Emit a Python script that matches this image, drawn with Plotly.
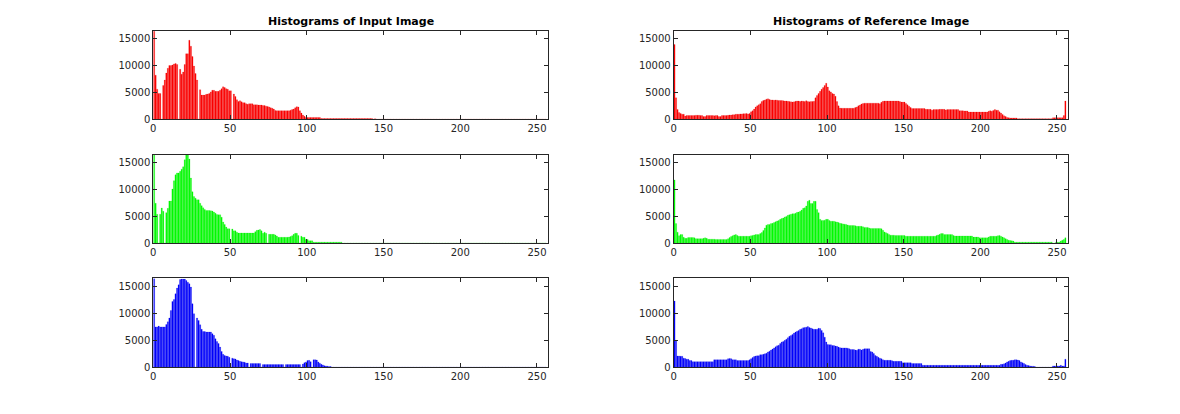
import plotly.graph_objects as go

# ---- data: 256-bin histograms (counts per intensity level) ----
bins = list(range(256))
x_ticks = [0, 50, 100, 150, 200, 250]
y_ticks = [0, 5000, 10000, 15000]
titles = ["Histograms of Input Image", "Histograms of Reference Image"]

input_red = [
    16400, 8200, 5600, 4800, 4800, 0, 6300, 7300, 8600, 9500, 10000, 10000, 10100, 10300, 10400, 10200,
    0, 9300, 8400, 8800, 10200, 12200, 12200, 14700, 13600, 11700, 9900, 8500, 7300, 0, 5500, 4500,
    4500, 4500, 4650, 4700, 4800, 5100, 5400, 5400, 5200, 5200, 5200, 5400, 5700, 6050, 5900, 5700,
    5600, 5300, 5300, 0, 4700, 4250, 3650, 3300, 3450, 3250, 3100, 3100, 2900, 2800, 2900, 2900,
    2900, 2700, 2700, 2700, 2650, 2650, 2650, 2550, 2550, 2450, 2400, 2300, 2150, 2050, 1900, 1650,
    1600, 1600, 1600, 1600, 1600, 1600, 1600, 1600, 1600, 1700, 1800, 1900, 2150, 2350, 2300, 1600,
    1150, 800, 550, 350, 350, 350, 350, 350, 350, 350, 350, 350, 350, 150, 150, 150,
    150, 150, 150, 150, 150, 150, 150, 150, 150, 150, 150, 150, 150, 150, 150, 150,
    150, 150, 150, 150, 150, 150, 150, 150, 150, 150, 150, 150, 150, 150, 150, 0,
    120, 0, 0, 0, 0, 0, 0, 0, 0, 0, 0, 0, 0, 0, 0, 0,
    0, 0, 0, 0, 0, 0, 0, 0, 0, 0, 0, 0, 0, 0, 0, 0,
    0, 0, 0, 0, 0, 0, 0, 0, 0, 0, 0, 0, 0, 0, 0, 0,
    0, 0, 0, 0, 0, 0, 0, 0, 0, 0, 0, 0, 0, 0, 0, 0,
    0, 0, 0, 0, 0, 0, 0, 0, 0, 0, 0, 0, 0, 0, 0, 0,
    0, 0, 0, 0, 0, 0, 0, 0, 0, 0, 0, 0, 0, 0, 0, 0,
    0, 0, 0, 0, 0, 0, 0, 0, 0, 0, 0, 0, 0, 0, 0, 0,
]

input_green = [
    16500, 7450, 5400, 0, 5400, 6550, 5950, 0, 5700, 6500, 7850, 7850, 10100, 11650, 12750, 13100,
    13100, 13400, 13800, 14250, 15550, 16500, 16500, 15700, 12150, 9600, 8700, 8400, 8100, 8100, 7450, 7000,
    6600, 6300, 6100, 6100, 6100, 6050, 6000, 5800, 5600, 5350, 5300, 5300, 4850, 3950, 3500, 3000,
    2700, 2700, 0, 2650, 2300, 2300, 2050, 1900, 1900, 1900, 1900, 1900, 1900, 1900, 1900, 1900,
    1900, 1900, 2150, 2400, 2450, 2550, 2300, 1850, 2050, 1850, 0, 1650, 1650, 1650, 1650, 1550,
    1350, 1100, 1100, 1100, 1100, 1100, 1100, 1100, 1150, 1250, 1400, 1650, 1850, 1850, 1450, 0,
    1300, 1100, 1100, 700, 700, 450, 450, 450, 200, 200, 200, 200, 200, 200, 200, 200,
    200, 200, 200, 200, 200, 200, 200, 200, 200, 200, 200, 0, 0, 0, 0, 0,
    0, 0, 0, 0, 0, 0, 0, 0, 0, 0, 0, 0, 0, 0, 0, 0,
    0, 0, 0, 0, 0, 0, 0, 0, 0, 0, 0, 0, 0, 0, 0, 0,
    0, 0, 0, 0, 0, 0, 0, 0, 0, 0, 0, 0, 0, 0, 0, 0,
    0, 0, 0, 0, 0, 0, 0, 0, 0, 0, 0, 0, 0, 0, 0, 0,
    0, 0, 0, 0, 0, 0, 0, 0, 0, 0, 0, 0, 0, 0, 0, 0,
    0, 0, 0, 0, 0, 0, 0, 0, 0, 0, 0, 0, 0, 0, 0, 0,
    0, 0, 0, 0, 0, 0, 0, 0, 0, 0, 0, 0, 0, 0, 0, 0,
    0, 0, 0, 0, 0, 0, 0, 0, 0, 0, 0, 0, 0, 0, 0, 0,
]

input_blue = [
    16500, 7500, 7500, 7650, 7500, 7500, 7500, 7500, 7950, 8450, 9150, 10550, 12200, 12600, 13650, 14700,
    15300, 16300, 16400, 16400, 16400, 16100, 15800, 15500, 14900, 11800, 9950, 0, 9150, 8700, 7900, 7050,
    6650, 6650, 6550, 6550, 6550, 6550, 6250, 5950, 5300, 4800, 4400, 3750, 2950, 2400, 2200, 2100,
    2050, 1850, 0, 1700, 1600, 1550, 1350, 1250, 1100, 1050, 1000, 950, 800, 800, 0, 700,
    700, 700, 700, 700, 700, 700, 0, 500, 500, 500, 500, 500, 500, 500, 500, 500,
    500, 500, 500, 500, 500, 0, 500, 500, 500, 500, 500, 500, 500, 500, 500, 500,
    0, 600, 850, 1000, 1250, 1300, 1050, 0, 1400, 1400, 1350, 1000, 750, 550, 450, 300,
    250, 200, 150, 150, 0, 0, 0, 0, 0, 0, 0, 0, 0, 0, 0, 0,
    0, 0, 0, 0, 0, 0, 0, 0, 0, 0, 0, 0, 0, 0, 0, 0,
    0, 0, 0, 0, 0, 0, 0, 0, 0, 0, 0, 0, 0, 0, 0, 0,
    0, 0, 0, 0, 0, 0, 0, 0, 0, 0, 0, 0, 0, 0, 0, 0,
    0, 0, 0, 0, 0, 0, 0, 0, 0, 0, 0, 0, 0, 0, 0, 0,
    0, 0, 0, 0, 0, 0, 0, 0, 0, 0, 0, 0, 0, 0, 0, 0,
    0, 0, 0, 0, 0, 0, 0, 0, 0, 0, 0, 0, 0, 0, 0, 0,
    0, 0, 0, 0, 0, 0, 0, 0, 0, 0, 0, 0, 0, 0, 0, 0,
    0, 0, 0, 0, 0, 0, 0, 0, 0, 0, 0, 0, 0, 0, 0, 0,
]

reference_red = [
    13900, 4000, 1800, 1250, 1100, 950, 950, 600, 700, 700, 700, 700, 700, 700, 750, 750,
    750, 700, 700, 500, 500, 700, 700, 700, 700, 700, 650, 700, 700, 500, 500, 700,
    700, 700, 700, 750, 800, 800, 850, 850, 950, 950, 950, 1000, 1000, 1050, 1050, 1100,
    1000, 1100, 1400, 1600, 1900, 2300, 2500, 2700, 2900, 3300, 3500, 3600, 3750, 3800, 3700, 3600,
    3600, 3550, 3600, 3550, 3500, 3500, 3500, 3450, 3400, 3400, 3350, 3300, 3250, 3200, 3250, 3350,
    3400, 3400, 3300, 3400, 3350, 3300, 3450, 3300, 3250, 3300, 3300, 3350, 4000, 4450, 4800, 5200,
    5600, 5900, 6300, 6700, 6000, 5300, 5100, 4800, 4700, 4300, 3300, 2500, 2100, 2050, 2050, 2050,
    2050, 2050, 2050, 2050, 2050, 2050, 2200, 2300, 2500, 2650, 2850, 2950, 3000, 3000, 3000, 3000,
    3000, 3000, 3000, 3000, 3000, 3000, 2900, 3150, 3350, 3400, 3400, 3400, 3400, 3400, 3400, 3400,
    3400, 3400, 3400, 3300, 3200, 3200, 3200, 2950, 2700, 2450, 2200, 2000, 2000, 2000, 2000, 2000,
    2000, 2000, 2000, 2000, 1850, 1850, 1850, 1850, 1700, 1800, 1800, 1800, 1800, 1850, 1850, 1850,
    1850, 1750, 1800, 1800, 1800, 1800, 1800, 1800, 1800, 1800, 1600, 1600, 1600, 1550, 1550, 1550,
    1350, 1350, 1350, 1350, 1350, 1350, 1350, 1350, 1350, 1350, 1350, 1350, 1350, 1500, 1600, 1500,
    1650, 1800, 1700, 1700, 1400, 1150, 900, 650, 500, 350, 300, 250, 250, 250, 250, 250,
    120, 120, 120, 120, 120, 120, 120, 120, 120, 120, 120, 120, 120, 120, 120, 120,
    120, 120, 120, 120, 120, 120, 120, 300, 300, 300, 300, 300, 300, 300, 700, 3400,
]

reference_green = [
    11800, 3650, 2050, 1400, 1600, 1600, 1100, 900, 900, 1050, 1050, 1050, 1050, 1000, 850, 850,
    850, 850, 850, 900, 1000, 900, 750, 750, 750, 750, 750, 700, 700, 700, 700, 700,
    700, 700, 700, 850, 1050, 1250, 1400, 1550, 1600, 1450, 1300, 1300, 1300, 1300, 1300, 1300,
    1300, 1300, 1400, 1450, 1550, 1600, 1600, 1600, 1800, 2000, 2350, 2850, 3350, 3500, 3500, 3650,
    3700, 3850, 4000, 4150, 4250, 4450, 4600, 4700, 4900, 5000, 5200, 5300, 5400, 5500, 5500, 5600,
    5750, 5800, 5950, 6200, 6500, 6600, 6950, 7800, 8000, 7400, 7400, 7800, 7800, 6300, 5700, 4450,
    4250, 4250, 4300, 4450, 4450, 4250, 4100, 4100, 4100, 4000, 3950, 3850, 3700, 3650, 3600, 3550,
    3500, 3400, 3300, 3300, 3300, 3300, 3250, 3150, 3150, 3150, 3150, 3050, 2950, 2950, 2950, 2850,
    2750, 2750, 2750, 2750, 2750, 2750, 2750, 2700, 2400, 2100, 1950, 1800, 1600, 1500, 1500, 1500,
    1450, 1450, 1450, 1450, 1450, 1450, 1450, 1300, 1300, 1300, 1300, 1300, 1300, 1300, 1300, 1300,
    1300, 1300, 1300, 1300, 1300, 1300, 1300, 1300, 1300, 1300, 1300, 1450, 1550, 1650, 1800, 1800,
    1600, 1600, 1600, 1600, 1600, 1600, 1450, 1350, 1350, 1350, 1350, 1350, 1350, 1350, 1350, 1350,
    1350, 1350, 1350, 1150, 1150, 1150, 1150, 1000, 1000, 1000, 1000, 1000, 1000, 1150, 1300, 1300,
    1300, 1300, 1300, 1400, 1450, 1300, 1150, 1000, 850, 700, 550, 500, 450, 400, 200, 200,
    200, 200, 200, 200, 200, 200, 200, 200, 200, 200, 200, 200, 200, 200, 200, 200,
    200, 200, 200, 200, 200, 200, 200, 0, 0, 200, 200, 200, 400, 550, 700, 1000,
]

reference_blue = [
    12300, 5000, 2100, 2100, 2050, 2050, 1700, 1650, 1500, 1500, 1250, 1250, 1050, 1050, 1050, 1050,
    1050, 1050, 1050, 1050, 1050, 1050, 1050, 1050, 1050, 1050, 1400, 1400, 1400, 1400, 1400, 1400,
    1400, 1400, 1400, 1600, 1650, 1600, 1400, 1400, 1400, 1250, 1250, 1250, 1250, 1250, 1250, 1250,
    1250, 1400, 1600, 1800, 2000, 2100, 2150, 2150, 2350, 2350, 2400, 2500, 2600, 2850, 3000, 3200,
    3400, 3600, 3800, 4000, 4100, 4400, 4700, 4800, 5000, 5200, 5500, 5750, 5900, 6100, 6350, 6550,
    6700, 6850, 7050, 7150, 7350, 7400, 7450, 7550, 7400, 7300, 7150, 7050, 7050, 7050, 7250, 7200,
    6850, 6400, 5600, 4700, 4250, 4200, 4200, 4050, 4050, 3950, 3900, 3750, 3650, 3600, 3600, 3600,
    3600, 3550, 3450, 3300, 3300, 3300, 3200, 3150, 3350, 3350, 3200, 3350, 3450, 3450, 3450, 3450,
    2950, 2850, 2550, 2200, 2050, 1850, 1700, 1600, 1400, 1300, 1300, 1300, 1300, 1300, 1200, 1100,
    1100, 1100, 1100, 1100, 1100, 850, 850, 850, 850, 850, 850, 700, 700, 700, 700, 700,
    700, 700, 370, 370, 370, 370, 370, 370, 370, 370, 370, 370, 370, 370, 370, 370,
    370, 370, 370, 370, 370, 370, 370, 370, 370, 370, 370, 370, 370, 370, 370, 370,
    370, 370, 370, 370, 370, 370, 370, 370, 370, 370, 370, 370, 370, 370, 370, 370,
    370, 370, 370, 370, 370, 550, 550, 650, 800, 1000, 1100, 1250, 1300, 1300, 1400, 1400,
    1350, 1250, 1000, 850, 700, 500, 370, 330, 250, 200, 200, 150, 0, 0, 0, 0,
    0, 0, 0, 0, 0, 0, 0, 250, 250, 250, 250, 250, 370, 250, 250, 1500,
]

# ---- figure ----
AXC = "#262626"
FONT = "DejaVu Sans"

panels = [
    (input_red, "#ff0000", "#e00000"),
    (reference_red, "#ff0000", "#e00000"),
    (input_green, "#00ff00", "#00e000"),
    (reference_green, "#00ff00", "#00e000"),
    (input_blue, "#0000ff", "#0000e0"),
    (reference_blue, "#0000ff", "#0000e0"),
]

W, H = 1180, 414
OFF = 8  # page (body) offset compensation, px


def xd(a, b):
    return [(a - OFF) / W, (b - OFF) / W]


def yfrac(y):
    return 1 - (y - OFF) / H


def yd(top, bottom):
    return [yfrac(bottom), yfrac(top)]


x_domains = [xd(153.3, 547.7), xd(673.7, 1067.7)]
y_domains = [yd(30.6, 119.3), yd(154.7, 243.2), yd(278.4, 367.3)]

bar_x = [b + 0.5 for b in bins]

fig = go.Figure()
layout_axes = {}
for i, (vals, face, edge) in enumerate(panels):
    n = i + 1
    row, col = i // 2, i % 2
    sfx = "" if n == 1 else str(n)
    fig.add_trace(go.Bar(
        x=bar_x, y=vals, width=0.8,
        marker=dict(color=face, line=dict(color=edge, width=0.2)),
        xaxis="x" + sfx, yaxis="y" + sfx, showlegend=False,
        hoverinfo="y",
    ))
    common = dict(
        ticks="inside", ticklen=4, tickwidth=1, tickcolor=AXC,
        showline=True, linecolor=AXC, linewidth=1, mirror="ticks",
        showgrid=False, zeroline=False, automargin=False,
        tickfont=dict(family=FONT, size=10, color=AXC),
    )
    layout_axes["xaxis" + sfx] = dict(
        domain=x_domains[col], range=[0, 257], anchor="y" + sfx,
        tickmode="array", tickvals=x_ticks, ticktext=[str(v) for v in x_ticks],
        **common)
    layout_axes["yaxis" + sfx] = dict(
        domain=y_domains[row], range=[0, 16500], anchor="x" + sfx,
        tickmode="array", tickvals=y_ticks, ticktext=[str(v) for v in y_ticks],
        **common)

fig.update_layout(
    width=W, height=H, autosize=False,
    margin=dict(l=0, r=0, t=0, b=0),
    paper_bgcolor="white", plot_bgcolor="white",
    barmode="overlay",
    **layout_axes,
)

for col, t in enumerate(titles):
    d = x_domains[col]
    fig.add_annotation(
        x=(d[0] + d[1]) / 2, y=yfrac(21), xref="paper", yref="paper",
        text="<b>" + t + "</b>", showarrow=False, xanchor="center", yanchor="middle",
        font=dict(family=FONT, size=11, color="black"),
    )

fig.write_html("out.html")
